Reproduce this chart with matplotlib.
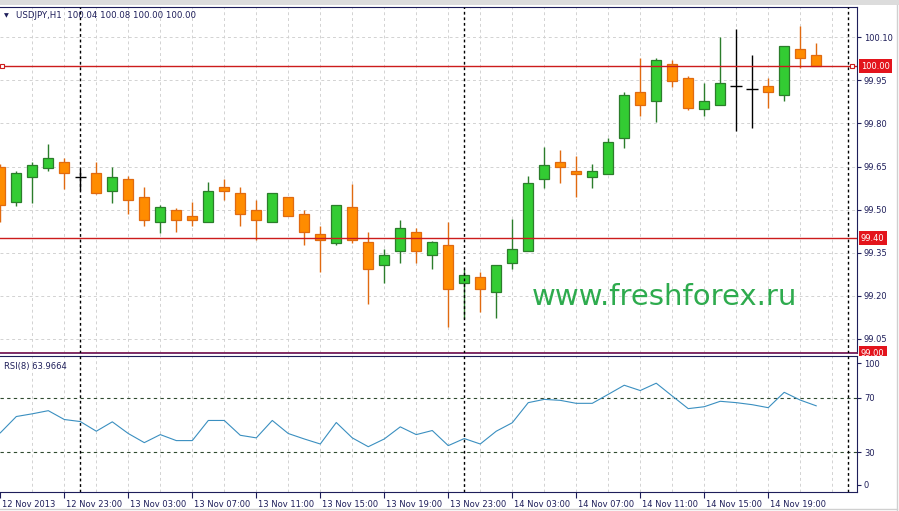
import matplotlib
matplotlib.use('Agg')
import matplotlib.pyplot as plt
from matplotlib.patches import Rectangle
from matplotlib.transforms import Bbox, TransformedBbox, ScaledTranslation

# USDJPY H1, 12 Nov 19:00 .. 14 Nov 22:00
opens = [99.650, 99.525, 99.614, 99.645, 99.667, 99.614, 99.626, 99.565, 99.605, 99.545,
         99.456, 99.497, 99.476, 99.456, 99.577, 99.556, 99.497, 99.456, 99.545, 99.486,
         99.416, 99.385, 99.508, 99.386, 99.305, 99.354, 99.423, 99.343, 99.375, 99.245,
         99.264, 99.213, 99.314, 99.354, 99.605, 99.667, 99.636, 99.615, 99.624, 99.748,
         99.909, 99.877, 100.009, 99.957, 99.849, 99.866, 99.929, 99.919, 99.929, 99.898,
         100.058, 100.04]
highs = [99.660, 99.636, 99.667, 99.728, 99.680, 99.643, 99.667, 99.648, 99.616, 99.578,
         99.516, 99.507, 99.526, 99.595, 99.606, 99.578, 99.535, 99.556, 99.545, 99.497,
         99.444, 99.516, 99.588, 99.423, 99.364, 99.465, 99.434, 99.390, 99.456, 99.294,
         99.284, 99.305, 99.466, 99.616, 99.718, 99.707, 99.686, 99.658, 99.748, 99.909,
         100.028, 100.028, 100.020, 99.967, 99.942, 100.101, 100.129, 100.038, 99.957, 100.069,
         100.139, 100.08]
lows = [99.457, 99.513, 99.523, 99.635, 99.573, 99.567, 99.553, 99.523, 99.485, 99.444,
        99.417, 99.423, 99.444, 99.456, 99.535, 99.444, 99.395, 99.456, 99.476, 99.375,
        99.282, 99.375, 99.385, 99.171, 99.244, 99.314, 99.314, 99.293, 99.091, 99.120,
        99.142, 99.122, 99.293, 99.354, 99.575, 99.593, 99.544, 99.575, 99.624, 99.715,
        99.825, 99.806, 99.928, 99.846, 99.827, 99.866, 99.774, 99.785, 99.854, 99.877,
        99.995, 100.00]
closes = [99.516, 99.626, 99.657, 99.678, 99.626, 99.614, 99.556, 99.615, 99.535, 99.465,
          99.508, 99.465, 99.465, 99.566, 99.566, 99.486, 99.465, 99.556, 99.476, 99.422,
          99.394, 99.516, 99.394, 99.293, 99.343, 99.434, 99.354, 99.386, 99.223, 99.273,
          99.223, 99.305, 99.364, 99.594, 99.657, 99.647, 99.624, 99.636, 99.737, 99.898,
          99.866, 100.020, 99.947, 99.853, 99.878, 99.940, 99.929, 99.919, 99.908, 100.069,
          100.027, 100.00]
rsi = [44.1, 56.1, 58.1, 60.4, 53.9, 52.4, 45.3, 52.2, 43.6, 36.9,
       42.8, 38.4, 38.4, 53.2, 53.2, 42.3, 40.4, 53.2, 43.6, 39.6,
       35.9, 51.7, 40.4, 33.9, 39.6, 48.5, 42.8, 45.8, 34.7, 39.9,
       35.9, 45.3, 51.5, 66.3, 68.7, 68.0, 65.8, 65.8, 72.4, 79.1,
       75.2, 80.6, 71.2, 61.9, 63.3, 67.3, 66.3, 64.8, 62.6, 73.9,
       68.2, 63.97]

price_ticks = [100.10, 99.95, 99.80, 99.65, 99.50, 99.35, 99.20, 99.05]
hlines_price = [100.00, 99.40, 99.00]
xtick_pos = [0, 4, 8, 12, 16, 20, 24, 28, 32, 36, 40, 44, 48]
xtick_labels = ['12 Nov 2013', '12 Nov 23:00', '13 Nov 03:00', '13 Nov 07:00', '13 Nov 11:00',
                '13 Nov 15:00', '13 Nov 19:00', '13 Nov 23:00', '14 Nov 03:00', '14 Nov 07:00',
                '14 Nov 11:00', '14 Nov 15:00', '14 Nov 19:00']
day_separators = [5, 29, 53]

NAVY = '#1e1e5a'
UP_FILL, UP_EDGE = '#33cc33', '#2b7d2b'
DN_FILL, DN_EDGE = '#ff8c00', '#e06a10'
GRID = '#d2d2d2'

fig = plt.figure(figsize=(8.99, 5.11), dpi=100)
W, H = 899.0, 511.0
ax = fig.add_axes([0, 1 - 353 / H, 857 / W, (353 - 7) / H])
ax2 = fig.add_axes([0, 1 - 492 / H, 857 / W, (492 - 356) / H], sharex=ax)

xmin, xmax = -0.02, 53.55
ax.set_xlim(xmin, xmax)
ax.set_ylim(99.00, 100.206)
ax2.set_ylim(0.6, 100.6)

# grid
for a in (ax, ax2):
    for gx in range(2, 54, 2):
        a.axvline(gx, color=GRID, ls=(0, (3, 3)), lw=0.7, zorder=0)
for py in price_ticks:
    ax.axhline(py, color=GRID, ls=(0, (3, 3)), lw=0.7, zorder=0)

# candles
bw = 0.64
for i, (o, h, l, c) in enumerate(zip(opens, highs, lows, closes)):
    if abs(c - o) < 1e-6:
        ax.vlines(i, l, h, color='black', lw=1, zorder=2)
        ax.hlines(o, i - 0.36, i + 0.36, color='black', lw=1, zorder=2)
        continue
    up = c > o
    fill, edge = (UP_FILL, UP_EDGE) if up else (DN_FILL, DN_EDGE)
    ax.vlines(i, l, h, color=edge, lw=1, zorder=2)
    ax.bar(i, abs(c - o), bottom=min(o, c), width=bw, color=fill,
           edgecolor=edge, linewidth=0.9, zorder=3)

# horizontal price lines
for hp in hlines_price:
    ax.axhline(hp, color='#cc1c1c', lw=1, zorder=4)
ax.plot([0.12, 53.25], [100.00, 100.00], ls='none', marker='s', ms=3.5,
        mfc='white', mec='#cc1c1c', mew=0.8, zorder=5, clip_on=False)

# day separators
for a in (ax, ax2):
    for sx in day_separators:
        a.axvline(sx, color='black', ls=(0, (2, 2)), lw=1, zorder=4)

# watermark
ax.text(532 / 857, 1 - (297 - 7) / 346, 'www.freshforex.ru', transform=ax.transAxes,
        fontsize=21, color='#2eab4e', ha='left', va='center', zorder=6)

# price axis
ax.yaxis.tick_right()
ax.set_yticks(price_ticks)
ax.set_yticklabels(['%.2f' % p for p in price_ticks])
ax.tick_params(axis='y', length=3, width=0.8, color=NAVY, labelsize=6,
               labelcolor=NAVY, pad=2)
ax.tick_params(axis='x', which='both', bottom=False, labelbottom=False)
ax.spines['left'].set_visible(False)
ax.spines['top'].set_color(NAVY)
ax.spines['right'].set_color(NAVY)
ax.spines['bottom'].set_color('#6b1f62')
ax.spines['bottom'].set_linewidth(1.3)

clip = TransformedBbox(Bbox([[0, 1 - 355.5 / H], [1, 1]]), fig.transFigure)
for hp in hlines_price:
    t = ax.text(1.0045, hp, '%.2f' % hp, transform=ax.get_yaxis_transform(),
                ha='left', va='center', fontsize=6, color='white', zorder=7,
                bbox=dict(boxstyle='square,pad=0.28', fc='#e3141c', ec='none'))
    t.set_clip_box(clip)
    t.set_clip_on(True)

# RSI panel
ax2.plot(range(len(rsi)), rsi, color='#3a8fc0', lw=0.8, zorder=3)
for lv in (70, 30):
    ax2.axhline(lv, color='#2f4a2f', ls=(0, (3, 3)), lw=0.8, zorder=2)
ax2.yaxis.tick_right()
ax2.set_yticks([5.8, 30, 70, 95.4])
ax2.set_yticklabels(['0', '30', '70', '100'])
ax2.tick_params(axis='y', length=3, width=0.8, color=NAVY, labelsize=6,
                labelcolor=NAVY, pad=2)
ax2.spines['left'].set_visible(False)
for s in ('top', 'right', 'bottom'):
    ax2.spines[s].set_color(NAVY)
ax2.text(4 / 857, 1 - (366 - 356) / 136, 'RSI(8) 63.9664', transform=ax2.transAxes,
         fontsize=6, color=NAVY, ha='left', va='center')

ax2.set_xticks(xtick_pos)
ax2.set_xticklabels(xtick_labels)
ax2.tick_params(axis='x', length=4, width=0.8, color=NAVY, labelsize=6,
                labelcolor=NAVY, pad=1.5)
off = ScaledTranslation(1.5 / 72, 0, fig.dpi_scale_trans)
for lab in ax2.get_xticklabels():
    lab.set_ha('left')
    lab.set_transform(lab.get_transform() + off)

# header
fig.text(4 / W, 1 - 15.5 / H, '\u25bc', fontsize=4.5, color=NAVY, ha='left', va='center')
fig.text(15.5 / W, 1 - 15.5 / H, 'USDJPY,H1  100.04 100.08 100.00 100.00',
         fontsize=6.2, color=NAVY, ha='left', va='center')

# window frame
fig.patches.append(Rectangle((0, 1 - 5 / H), 1, 5 / H, transform=fig.transFigure,
                             facecolor='#dcdcdc', edgecolor='none'))
fig.lines.append(plt.Line2D([896.5 / W, 896.5 / W], [0, 1 - 5 / H], transform=fig.transFigure,
                            color='#d0d0d0', lw=1))
fig.lines.append(plt.Line2D([0, 896.5 / W], [2.5 / H, 2.5 / H], transform=fig.transFigure,
                            color='#d0d0d0', lw=1))

fig.savefig('out.png', dpi=100)
